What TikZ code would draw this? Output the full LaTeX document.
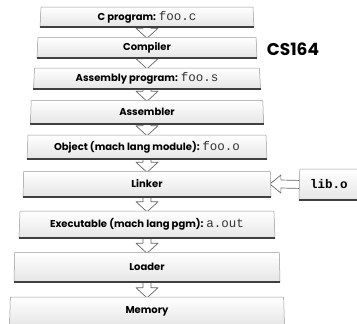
\documentclass[tikz,border=0pt]{standalone}
\usepackage{fontspec}
\setmainfont{Poppins}
\setmonofont{Liberation Mono}
\usetikzlibrary{positioning,shapes.geometric,calc,backgrounds}
\newcommand{\filename}[1]{{\fontsize{12.5}{12}\selectfont\ttfamily\mdseries\color{black!80}#1}}
\tikzset{
    stagebox/.style={trapezium, trapezium angle=85, trapezium stretches body,
        draw=black!40, line width=0.5pt, top color=white, bottom color=black!10,
        inner sep=0pt, font=\fontsize{10}{11}\selectfont\bfseries},
    baseline shadow/.style={line width=1.6pt, black!75},
    flowarrow/.style={draw=black!60, fill=white, line width=0.7pt, line join=round},
    titletext/.style={font=\fontsize{17}{18}\selectfont\bfseries}
}

\begin{document}
\begin{tikzpicture}[x=1pt, y=-1pt]
\useasboundingbox (0,0) rectangle (357,324);
\node[stagebox, minimum width=214pt, minimum height=20pt] (cprog) at (147,17) {C program: \filename{foo.c}};
\node[stagebox, minimum width=220pt, minimum height=20pt, below=10pt of cprog] (comp) {Compiler};
\node[stagebox, minimum width=227pt, minimum height=21pt, below=10pt of comp] (asmprog) {Assembly program: \filename{foo.s}};
\node[stagebox, minimum width=233pt, minimum height=23pt, below=11pt of asmprog] (asm) {Assembler};
\node[stagebox, minimum width=240pt, minimum height=24pt, below=11pt of asm] (obj) {Object (mach lang module): \filename{foo.o}};
\node[stagebox, minimum width=248pt, minimum height=25pt, below=12pt of obj] (link) {Linker};
\node[stagebox, minimum width=256pt, minimum height=27pt, below=14pt of link] (exe) {Executable (mach lang pgm): \filename{a.out}};
\node[stagebox, minimum width=266pt, minimum height=29pt, below=14pt of exe] (load) {Loader};
\node[stagebox, minimum width=275pt, minimum height=29pt, below=15pt of load] (mem) {Memory};
\node[stagebox, minimum width=60pt, minimum height=31pt] (lib) at (329,184.5) {\fontsize{12.5}{12}\selectfont\ttfamily lib.o};
\node[titletext] (title) at (293,49) {CS164};

% heavy lower edges
\foreach \n in {cprog,comp,asmprog,asm,obj,link,exe,load,mem,lib}
    \draw[baseline shadow] (\n.bottom left corner) -- (\n.bottom right corner);

% hollow arrows behind the boxes
\begin{scope}[on background layer]
\foreach \a/\b in {cprog/comp,comp/asmprog,asmprog/asm,asm/obj,obj/link,link/exe,exe/load,load/mem}
    \draw[flowarrow] ($(\a.south)+(-4,-4)$) -- ($(\b.north)+(-4,-9)$) -- ($(\b.north)+(-11,-9)$)
        -- ($(\b.north)+(0,1)$) -- ($(\b.north)+(11,-9)$) -- ($(\b.north)+(4,-9)$)
        -- ($(\a.south)+(4,-4)$) -- cycle;
\draw[flowarrow] ($(lib.west)+(4,-4)$) -- ($(link.east)+(10,-4)$) -- ($(link.east)+(10,-9)$)
    -- ($(link.east)+(-1,0)$) -- ($(link.east)+(10,9)$) -- ($(link.east)+(10,4)$)
    -- ($(lib.west)+(4,4)$) -- cycle;
\end{scope}
\end{tikzpicture}
\end{document}
